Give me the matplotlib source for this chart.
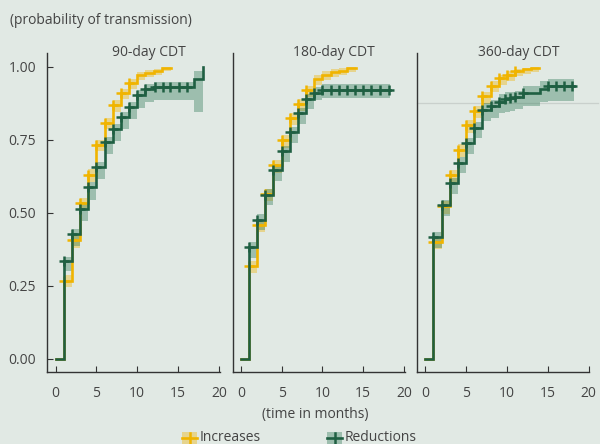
import numpy as np
import matplotlib
matplotlib.use("Agg")
import matplotlib.pyplot as plt
from matplotlib.patches import Rectangle
from matplotlib.lines import Line2D
import matplotlib.transforms as mtransforms

# ---------------- data ----------------
panel_titles = ["90-day CDT", "180-day CDT", "360-day CDT"]
x_ticks = [0, 5, 10, 15, 20]
y_ticks = [0.00, 0.25, 0.50, 0.75, 1.00]
y_tick_labels = ["0.00", "0.25", "0.50", "0.75", "1.00"]
legend_labels = ["Increases", "Reductions"]

# Panel 1 (90-day)
p1_inc_t = [0, 1, 2, 3, 4, 5, 6, 7, 8, 9, 10, 11, 12, 13]
p1_inc_v = [0, .267, .405, .533, .630, .733, .808, .868, .911, .944, .970, .978, .985, .995]
p1_inc_lo = [0, .245, .380, .510, .605, .710, .785, .845, .890, .925, .955, .965, .972, .984]
p1_inc_hi = [0, .285, .425, .550, .650, .750, .825, .885, .925, .958, .982, .988, .993, .999]
p1_inc_end = 14.1
p1_inc_marks = [1, 2, 3, 4, 5, 6, 7, 8, 9]

p1_red_t = [0, 1, 2, 3, 4, 5, 6, 7, 8, 9, 10, 11, 12, 17, 18]
p1_red_v = [0, .336, .428, .513, .587, .658, .742, .788, .828, .862, .902, .922, .930, .959, 1.0]
p1_red_lo = [0, .300, .385, .470, .545, .615, .700, .745, .785, .820, .860, .880, .885, .845, .845]
p1_red_hi = [0, .350, .445, .530, .605, .675, .760, .805, .845, .880, .920, .940, .947, .987, .987]
p1_red_end = 18.0
p1_red_marks = [1, 2, 3, 4, 5, 6, 7, 8, 9, 10, 11, 12.2, 13.1, 14.0, 15.1, 16.05]

# Panel 2 (180-day)
p2_inc_t = [0, 1, 2, 3, 4, 5, 6, 7, 8, 9, 10, 11, 12, 13]
p2_inc_v = [0, .316, .458, .565, .662, .748, .825, .873, .919, .959, .973, .982, .987, .994]
p2_inc_lo = [0, .293, .433, .540, .637, .723, .800, .850, .896, .938, .955, .965, .972, .982]
p2_inc_hi = [0, .333, .475, .582, .679, .765, .842, .890, .935, .972, .985, .992, .996, .999]
p2_inc_end = 14.1
p2_inc_marks = [1, 2, 3, 4, 5, 6, 7, 8]

p2_red_t = [0, 1, 2, 3, 4, 5, 6, 7, 8, 9, 10]
p2_red_v = [0, .382, .476, .561, .647, .713, .776, .841, .890, .911, .921]
p2_red_lo = [0, .345, .440, .525, .610, .675, .740, .805, .855, .885, .893]
p2_red_hi = [0, .400, .495, .580, .665, .730, .795, .860, .905, .930, .942]
p2_red_end = 18.3
p2_red_marks = [1, 2, 3, 4, 5, 6, 7, 8, 9, 10, 11, 12, 13, 14, 15, 16, 17.05, 18.1]

# Panel 3 (360-day)
p3_inc_t = [0, 1, 2, 3, 4, 5, 6, 7, 8, 9, 10, 11, 12, 13]
p3_inc_v = [0, .399, .522, .628, .716, .799, .848, .898, .935, .960, .972, .985, .991, .996]
p3_inc_lo = [0, .375, .497, .603, .690, .773, .823, .873, .912, .938, .952, .967, .975, .982]
p3_inc_hi = [0, .418, .540, .646, .734, .816, .865, .915, .950, .973, .984, .993, .997, .999]
p3_inc_end = 13.9
p3_inc_marks = [1, 2, 3, 4, 5, 6, 7, 8, 9, 10, 11]

p3_red_t = [0, 1, 2, 3, 4, 5, 6, 7, 8, 9, 9.7, 10.4, 11, 12, 14, 15]
p3_red_v = [0, .416, .525, .601, .670, .738, .790, .853, .865, .879, .888, .892, .896, .910, .925, .933]
p3_red_lo = [0, .380, .490, .565, .635, .700, .755, .815, .825, .840, .845, .850, .855, .866, .880, .882]
p3_red_hi = [0, .435, .545, .620, .690, .755, .810, .875, .885, .905, .912, .915, .918, .934, .950, .959]
p3_red_end = 18.2
p3_red_marks = [1, 2, 3, 4, 5, 6, 7, 8, 9, 9.7, 10.4, 11, 12, 15, 16, 17, 18]

p3_ref_line = 0.876

panels = [
    [(p1_inc_t, p1_inc_v, p1_inc_lo, p1_inc_hi, p1_inc_end, p1_inc_marks),
     (p1_red_t, p1_red_v, p1_red_lo, p1_red_hi, p1_red_end, p1_red_marks)],
    [(p2_inc_t, p2_inc_v, p2_inc_lo, p2_inc_hi, p2_inc_end, p2_inc_marks),
     (p2_red_t, p2_red_v, p2_red_lo, p2_red_hi, p2_red_end, p2_red_marks)],
    [(p3_inc_t, p3_inc_v, p3_inc_lo, p3_inc_hi, p3_inc_end, p3_inc_marks),
     (p3_red_t, p3_red_v, p3_red_lo, p3_red_hi, p3_red_end, p3_red_marks)],
]

# ---------------- style ----------------
BG = "#e1e9e4"
ORANGE = "#f0b400"
GREEN = "#1f5f42"
ORANGE_BAND = "#f0b400"
GREEN_BAND = "#2e7a57"
TXT = "#444444"
SPINE = "#333333"
FONT = "Open Sans"
FS = 10

plt.rcParams["font.family"] = [FONT, "DejaVu Sans"]

W, H = 600, 444
fig = plt.figure(figsize=(W / 100, H / 100), dpi=100, facecolor=BG)

ax_w = 172.4 / W
ax_bottom = 1 - 371.7 / H
ax_h = 319.0 / H
lefts_px = [47.3, 232.5, 417.0]

def step_val(t, v, x):
    i = np.searchsorted(np.asarray(t), x, side="right") - 1
    return np.asarray(v)[i]

series_colors = [(ORANGE, ORANGE_BAND), (GREEN, GREEN_BAND)]

axes = []
for k, lp in enumerate(lefts_px):
    ax = fig.add_axes([lp / W, ax_bottom, ax_w, ax_h])
    ax.set_facecolor(BG)
    axes.append(ax)
    for (t, v, lo, hi, end, marks), (lc, bc) in zip(panels[k], series_colors):
        te = list(t) + [end]
        loe = list(lo) + [lo[-1]]
        hie = list(hi) + [hi[-1]]
        ax.fill_between(te, loe, hie, step="post", color=bc, alpha=0.38, linewidth=0)
    for (t, v, lo, hi, end, marks), (lc, bc) in zip(panels[k], series_colors):
        te = list(t) + [end]
        ve = list(v) + [v[-1]]
        ax.step(te, ve, where="post", color=lc, lw=1.9, solid_joinstyle="miter")
        mv = [step_val(t, v, m) for m in marks]
        ax.plot(marks, mv, linestyle="none", marker="+", markersize=7,
                markeredgewidth=1.8, color=lc)

    ax.set_xlim(-1.02, 20.1)
    ax.set_ylim(-0.0445, 1.048)
    for s in ["top", "right"]:
        ax.spines[s].set_visible(False)
    for s in ["left", "bottom"]:
        ax.spines[s].set_color(SPINE)
        ax.spines[s].set_linewidth(1.0)
    ax.set_xticks(x_ticks)
    ax.set_xticklabels([str(x) for x in x_ticks])
    ax.tick_params(axis="x", direction="in", length=4, width=0.8, color=SPINE,
                   labelsize=FS, labelcolor=TXT, pad=10)
    if k == 0:
        ax.set_yticks(y_ticks)
        ax.set_yticklabels(y_tick_labels)
        ax.tick_params(axis="y", direction="in", length=4, width=0.8, color=SPINE,
                       labelsize=FS, labelcolor=TXT, pad=8)
    else:
        ax.set_yticks([])
    trans = mtransforms.blended_transform_factory(ax.transData, ax.transAxes)
    ax.text(11.4, 1.0, panel_titles[k], transform=trans, ha="center", va="center",
            fontsize=FS, color=TXT)

# thin reference line in panel 3
ax3 = axes[2]
trans3 = mtransforms.blended_transform_factory(ax3.transAxes, ax3.transData)
ax3.plot([0, (598 - 417.0) / 172.4], [p3_ref_line, p3_ref_line], transform=trans3,
         color="#c9d0cc", lw=0.9, clip_on=False, zorder=0.5)

# axis labels
fig.text(10 / W, 1 - 20 / H, "(probability of transmission)", ha="left", va="center",
         fontsize=FS, color=TXT)
fig.text(315 / W, 1 - 414 / H, "(time in months)", ha="center", va="center",
         fontsize=FS, color=TXT)

# legend (manual)
leg_items = [(182.0, ORANGE, ORANGE_BAND), (327.0, GREEN, GREEN_BAND)]
for (x0, lc, bc), lab in zip(leg_items, legend_labels):
    fig.patches.append(Rectangle((x0 / W, 1 - 446 / H), 15 / W, 14 / H,
                                 transform=fig.transFigure, facecolor=bc, alpha=0.38,
                                 edgecolor="none"))
    cy = 1 - 437.5 / H
    fig.lines.append(Line2D([x0 / W, (x0 + 15) / W], [cy, cy], transform=fig.transFigure,
                            color=lc, lw=1.9))
    fig.lines.append(Line2D([(x0 + 7.5) / W, (x0 + 7.5) / W], [cy - 5 / H, cy + 5 / H],
                            transform=fig.transFigure, color=lc, lw=1.8))
    fig.text((x0 + 17.5) / W, cy, lab, ha="left", va="center", fontsize=FS, color=TXT)

fig.savefig("out.png", dpi=100, facecolor=BG)
